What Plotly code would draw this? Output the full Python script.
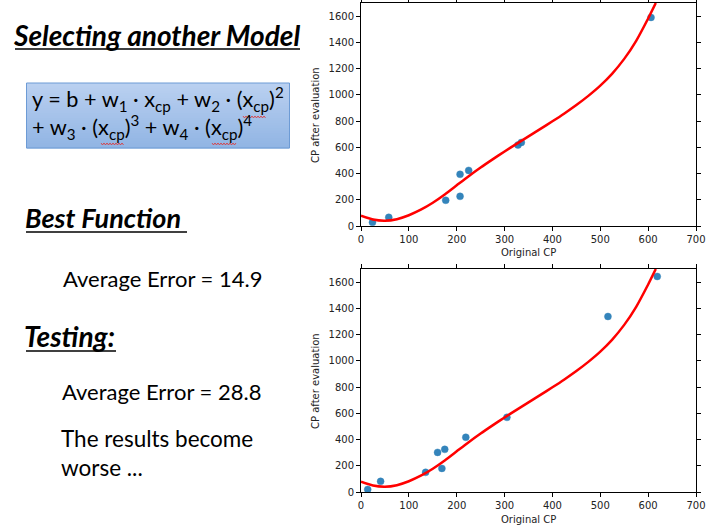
import plotly.graph_objects as go

W, H = 708, 525

# ---- data ----
curve_x = [0, 25, 50, 75, 100, 125, 150, 175, 200, 225, 250, 275, 300, 325, 350, 375,
           400, 425, 450, 475, 500, 525, 550, 575, 600, 616]
curve_y = [78, 49, 40, 52, 82, 124, 177, 240, 310, 380, 446, 508, 568, 626, 683, 740,
           798, 858, 922, 992, 1070, 1162, 1274, 1412, 1582, 1700]

train_x = [24, 58, 177, 207, 207, 225, 328, 335, 606]
train_y = [28, 66, 196, 226, 394, 424, 617, 637, 1590]

test_x = [14, 41, 135, 160, 169, 175, 219, 305, 516, 619]
test_y = [20, 81, 150, 302, 180, 325, 417, 569, 1338, 1643]

x_ticks = [0, 100, 200, 300, 400, 500, 600, 700]
y_ticks = [0, 200, 400, 600, 800, 1000, 1200, 1400, 1600]

x_title = "Original CP"
y_title = "CP after evaluation"

# ---- helpers ----
def px(x):
    return x / W

def py(y):
    return 1 - y / H

fig = go.Figure()

for i, (xs, ys) in enumerate([(train_x, train_y), (test_x, test_y)]):
    xa = "x" if i == 0 else "x2"
    ya = "y" if i == 0 else "y2"
    fig.add_trace(go.Scatter(x=xs, y=ys, mode="markers", xaxis=xa, yaxis=ya,
                             marker=dict(color="#1f77b4", size=7, opacity=0.9,
                                         line=dict(color="rgba(31,119,180,0.4)", width=1)),
                             showlegend=False, hoverinfo="skip"))
    fig.add_trace(go.Scatter(x=curve_x, y=curve_y, mode="lines", xaxis=xa, yaxis=ya,
                             line=dict(color="#ff0000", width=2.5, shape="spline", smoothing=0.6),
                             showlegend=False, hoverinfo="skip"))

tickfont = dict(family="DejaVu Sans", size=10, color="#222")
axis_common = dict(showgrid=False, zeroline=False, showline=True, linecolor="black", linewidth=1,
                   mirror="ticks", ticks="outside", ticklen=4, tickwidth=1, tickcolor="black",
                   tickfont=tickfont, automargin=False, fixedrange=True)

xdom = [px(361), px(696)]
fig.update_layout(
    template="none",
    width=W, height=H, autosize=False,
    margin=dict(l=0, r=0, t=0, b=0, pad=0),
    paper_bgcolor="white", plot_bgcolor="white",
    hovermode=False,
    xaxis=dict(domain=xdom, range=[0, 700], tickvals=x_ticks, anchor="y", **axis_common),
    yaxis=dict(domain=[py(226), py(3)], range=[0, 1700], tickvals=y_ticks, anchor="x", **axis_common),
    xaxis2=dict(domain=xdom, range=[0, 700], tickvals=x_ticks, anchor="y2", **axis_common),
    yaxis2=dict(domain=[py(492), py(269)], range=[0, 1700], tickvals=y_ticks, anchor="x2", **axis_common),
)

ann = []
labfont = dict(family="DejaVu Sans", size=10, color="#222")
for yc in [253, 519]:
    ann.append(dict(x=px(528), y=py(yc), xref="paper", yref="paper", text=x_title,
                    showarrow=False, font=labfont, xanchor="center", yanchor="middle"))
for yc in [115, 381]:
    ann.append(dict(x=px(315), y=py(yc), xref="paper", yref="paper", text=y_title, textangle=-90,
                    showarrow=False, font=labfont, xanchor="center", yanchor="middle"))

shapes = []

# formula box with vertical gradient
top_c = (0xBA, 0xD0, 0xF0)
bot_c = (0x91, 0xB5, 0xE4)
n = 26
y0b, y1b = 83, 148
for k in range(n):
    t = k / (n - 1)
    c = tuple(int(round(top_c[j] + (bot_c[j] - top_c[j]) * t)) for j in range(3))
    ya_ = y0b + (y1b - y0b) * k / n
    yb_ = y0b + (y1b - y0b) * (k + 1) / n
    shapes.append(dict(type="rect", xref="paper", yref="paper",
                       x0=px(26.5), x1=px(289.5), y0=py(yb_ + 0.5), y1=py(ya_),
                       fillcolor="rgb(%d,%d,%d)" % c, line=dict(width=0), layer="below"))
shapes.append(dict(type="rect", xref="paper", yref="paper", x0=px(26.5), x1=px(289.5),
                   y0=py(148), y1=py(83), line=dict(color="#6d9bd5", width=1), fillcolor="rgba(0,0,0,0)"))

# underlines
for (xa_, xb_, yy) in [(15, 300, 49), (26, 187, 232), (26, 116, 351)]:
    shapes.append(dict(type="line", xref="paper", yref="paper", x0=px(xa_), x1=px(xb_),
                       y0=py(yy), y1=py(yy), line=dict(color="black", width=1.5)))

# red spell-check squiggles under x_cp
def squiggle(xa_, xb_, yy):
    pts = []
    xx = xa_
    up = True
    while xx <= xb_:
        pts.append((px(xx), py(yy - 1 if up else yy + 1)))
        up = not up
        xx += 1.5
    d = "M " + " L ".join("%.5f,%.5f" % p for p in pts)
    return dict(type="path", xref="paper", yref="paper", path=d,
                line=dict(color="#e03030", width=0.8))

for (xa_, xb_, yy) in [(243, 266, 117), (101, 124, 144), (212, 236, 144)]:
    shapes.append(squiggle(xa_, xb_, yy))

body = "Lato"
ann.append(dict(x=px(11), y=py(35), xref="paper", yref="paper",
                text="<b><i>Selecting another Model</i></b>", showarrow=False,
                font=dict(family=body, size=28, color="black"), xanchor="left", yanchor="middle"))
ann.append(dict(x=px(30), y=py(113), xref="paper", yref="paper",
                text="y = b + w<sub>1</sub> · x<sub>cp</sub> + w<sub>2</sub> · (x<sub>cp</sub>)<sup>2</sup><br>"
                     "+ w<sub>3</sub> · (x<sub>cp</sub>)<sup>3</sup> + w<sub>4</sub> · (x<sub>cp</sub>)<sup>4</sup>",
                showarrow=False, align="left",
                font=dict(family=body, size=21.7, color="black"), xanchor="left", yanchor="middle"))
ann.append(dict(x=px(23), y=py(218), xref="paper", yref="paper",
                text="<b><i>Best Function</i></b>", showarrow=False,
                font=dict(family=body, size=27, color="black"), xanchor="left", yanchor="middle"))
ann.append(dict(x=px(61), y=py(278), xref="paper", yref="paper",
                text="Average Error = 14.9", showarrow=False,
                font=dict(family=body, size=22, color="black"), xanchor="left", yanchor="middle"))
ann.append(dict(x=px(22), y=py(336), xref="paper", yref="paper",
                text="<b><i>Testing:</i></b>", showarrow=False,
                font=dict(family=body, size=28, color="black"), xanchor="left", yanchor="middle"))
ann.append(dict(x=px(60), y=py(391), xref="paper", yref="paper",
                text="Average Error = 28.8", showarrow=False,
                font=dict(family=body, size=22, color="black"), xanchor="left", yanchor="middle"))
ann.append(dict(x=px(59), y=py(453), xref="paper", yref="paper",
                text="The results become<br>worse ...", showarrow=False, align="left",
                font=dict(family=body, size=22.5, color="black"), xanchor="left", yanchor="middle"))

fig.update_layout(annotations=ann, shapes=shapes)
fig.write_html("out.html", config={"displayModeBar": False, "responsive": False},
               post_script="document.body.style.margin='0';"
                           "document.documentElement.style.overflow='hidden';"
                           "document.body.style.overflow='hidden';")
